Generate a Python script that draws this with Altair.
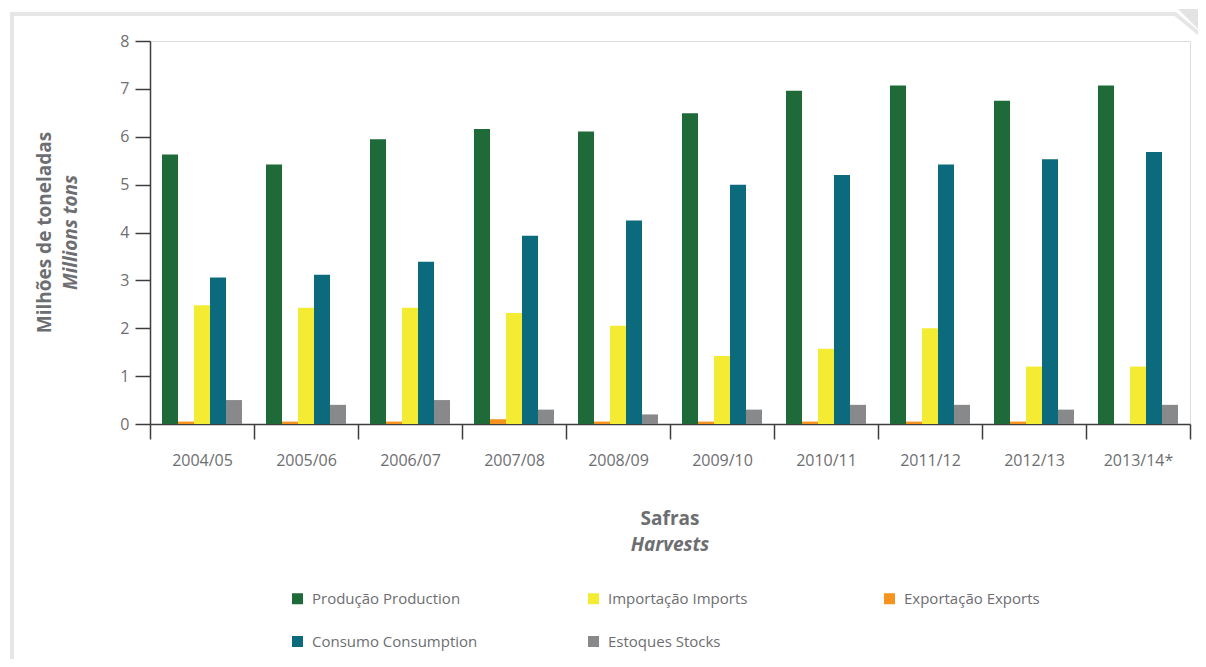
import altair as alt
import pandas as pd

safras = ["2004/05", "2005/06", "2006/07", "2007/08", "2008/09",
          "2009/10", "2010/11", "2011/12", "2012/13", "2013/14*"]

producao = [5.63, 5.42, 5.95, 6.16, 6.11, 6.49, 6.96, 7.07, 6.75, 7.07]
importacao = [2.48, 2.43, 2.43, 2.32, 2.05, 1.42, 1.57, 2.00, 1.20, 1.20]
exportacao = [0.05, 0.05, 0.05, 0.10, 0.05, 0.05, 0.05, 0.05, 0.05, 0.0]
consumo = [3.06, 3.12, 3.39, 3.93, 4.25, 5.00, 5.20, 5.42, 5.53, 5.68]
estoques = [0.50, 0.40, 0.50, 0.30, 0.20, 0.30, 0.40, 0.40, 0.30, 0.40]

series_names = ["Produção Production", "Importação Imports", "Exportação Exports",
                "Consumo Consumption", "Estoques Stocks"]
series_values = [producao, importacao, exportacao, consumo, estoques]
color_of = {
    "Produção Production": "#1e6a39",
    "Importação Imports": "#f4ec33",
    "Exportação Exports": "#f6921e",
    "Consumo Consumption": "#0b6a7b",
    "Estoques Stocks": "#87898b",
}
# legend fills column by column: this order reads row by row as in the reference
legend_order = ["Produção Production", "Consumo Consumption", "Importação Imports",
                "Estoques Stocks", "Exportação Exports"]
bar_order = ["Produção Production", "Exportação Exports", "Importação Imports",
             "Consumo Consumption", "Estoques Stocks"]

rows = []
for name, vals in zip(series_names, series_values):
    for s, v in zip(safras, vals):
        rows.append({"safra": s, "serie": name, "valor": v})
df = pd.DataFrame(rows)

FONT = "Open Sans"
TXT = "#6d6e71"
AX = "#3d3d3d"
FRAME = "#e6e6e6"

W, H = 1040, 383

bars = alt.Chart(df).mark_bar().encode(
    x=alt.X("safra:N", sort=safras, title=None,
            scale=alt.Scale(paddingInner=0, paddingOuter=0),
            axis=alt.Axis(labelAngle=0, tickBand="extent", tickSize=15,
                          labelPadding=13, labelFontSize=16, labelColor=TXT,
                          labelFont=FONT, domainColor=AX, tickColor=AX,
                          domainWidth=1.5, tickWidth=1.5)),
    xOffset=alt.XOffset("serie:N", sort=bar_order,
                        scale=alt.Scale(paddingOuter=0.75, paddingInner=0)),
    y=alt.Y("valor:Q", title=None,
            scale=alt.Scale(domain=[0, 8], nice=False),
            axis=alt.Axis(values=list(range(9)), tickSize=15, labelPadding=6,
                          labelFontSize=16, labelColor=TXT, labelFont=FONT,
                          domainColor=AX, tickColor=AX, domainWidth=1.5,
                          tickWidth=1.5, grid=False)),
    color=alt.Color("serie:N",
                    scale=alt.Scale(domain=legend_order,
                                    range=[color_of[n] for n in legend_order]),
                    legend=alt.Legend(title=None, orient="none", legendX=140,
                                      legendY=550, columns=3, gridAlign="all",
                                      columnPadding=108, rowPadding=27,
                                      symbolType="square", symbolSize=121,
                                      symbolStrokeWidth=0, labelFontSize=15,
                                      labelColor=TXT, labelFont=FONT,
                                      labelOffset=7, labelLimit=300, padding=0)),
)

one = alt.Data(values=[{"k": 1}])

def txt(text, x, y, angle=0, style="normal"):
    return alt.Chart(one).mark_text(
        text=text, font=FONT, fontSize=19, fontWeight="bold", fontStyle=style,
        color=TXT, angle=angle, align="center", baseline="middle"
    ).encode(x=alt.value(x), y=alt.value(y))

titles = [
    txt("Safras", W / 2, 478),
    txt("Harvests", W / 2, 504, style="italic"),
    txt("Milhões de toneladas", -105, H / 2, angle=270),
    txt("Millions tons", -79, H / 2, angle=270, style="italic"),
]

top_line = alt.Chart(one).mark_rule(color=FRAME, strokeWidth=4).encode(
    x=alt.value(-140), x2=alt.value(1025), y=alt.value(-27), y2=alt.value(-27))
left_line = alt.Chart(one).mark_rule(color=FRAME, strokeWidth=4).encode(
    x=alt.value(-138), x2=alt.value(-138), y=alt.value(-29), y2=alt.value(650))
diag_line = alt.Chart(one).mark_rule(color=FRAME, strokeWidth=4).encode(
    x=alt.value(1024), x2=alt.value(1058), y=alt.value(-28), y2=alt.value(0))
fold = alt.Chart(one).mark_point(
    shape="M-1,-1 L1,-1 L1,1 Z", filled=True, color="#e3e3e3", opacity=1,
    size=784, strokeWidth=0).encode(x=alt.value(1042), y=alt.value(-18))

chart = alt.layer(top_line, left_line, diag_line, fold, bars, *titles).properties(
    width=W, height=H,
    padding={"left": 142, "top": 33, "right": 8, "bottom": 235},
    autosize=alt.AutoSizeParams(type="none"),
).configure_view(stroke=None).configure(font=FONT)

chart.save("out.html", embed_options={"renderer": "svg", "actions": False})
